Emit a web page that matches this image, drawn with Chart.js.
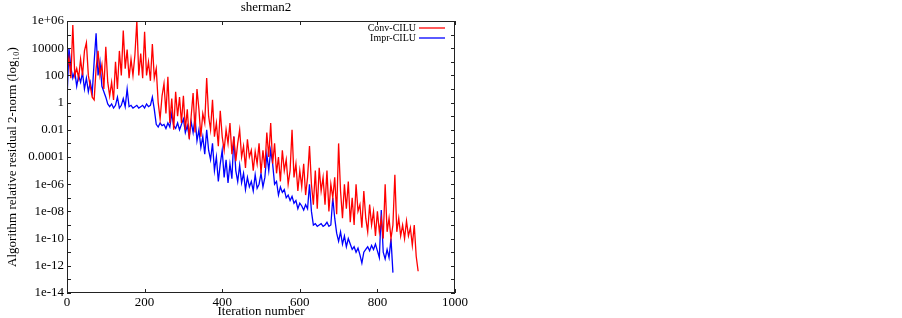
<!DOCTYPE html>
<html><head><meta charset="utf-8">
<script src="https://cdn.jsdelivr.net/npm/chart.js@4/dist/chart.umd.min.js"></script>
<style>html,body{margin:0;padding:0;background:#fff;}canvas{display:block;}</style>
</head><body>
<canvas id="c" width="902" height="318"></canvas>
<script>
const chartTitle = 'sherman2';
const xTitle = 'Iteration number';
const yTitle = 'Algorithm relative residual 2-norm (log\u2081\u2080)';
const seriesNames = ['Conv-CILU', 'Impr-CILU'];
const seriesColors = ['#ff0000', '#0000ff'];
const xTickValues = [0, 200, 400, 600, 800, 1000];
const xTickLabels = ['0', '200', '400', '600', '800', '1000'];
const yTickValues = [1e-14, 1e-12, 1e-10, 1e-8, 1e-6, 1e-4, 1e-2, 1, 1e2, 1e4, 1e6];
const yTickLabels = ['1e-14', '1e-12', '1e-10', '1e-08', '1e-06', '0.0001', '0.01', '1', '100', '10000', '1e+06'];
const iterStep = 5; // sampled every 5 iterations
// residual values as log10 exponents, read from the picture
const convLog10 = [
 2.5, 3.3, 1.8, 5.7, 2.0, 2.5, 1.8, 3.2, 2.0, 3.8,
 4.4, 2.0, 1.2, 0.4, 0.2, 2.5, 3.8, 2.0, 2.8, 1.0,
 4.1, 1.5, 0.5, 1.5, 0.2, 3.0, 1.0, 3.8, 2.0, 5.3,
 2.5, 3.9, 1.8, 3.2, 2.0, 3.5, 6.0, 2.0, 3.6, 1.8,
 5.2, 2.0, 3.0, 1.6, 4.3, 1.8, 2.5, 0.0, -1.2, 0.5,
 1.4, -0.8, 1.9, -1.5, 0.3, -2.0, 0.8, -1.0, 0.4, -1.5,
 0.5, -2.0, -0.5, -2.7, -1.0, 0.7, -2.2, 1.0, -0.5, -2.5,
 -0.8, -1.5, 1.8, -1.0, -2.0, 0.2, -2.5, -1.5, -3.2, -0.6,
 -2.5, -3.5, -2.0, -3.0, -1.5, -3.8, -2.5, -4.3, -3.0, -2.0,
 -4.0, -3.2, -4.8, -2.7, -4.0, -3.5, -5.0, -3.6, -4.5, -3.0,
 -5.2, -3.5, -4.8, -2.2, -4.0, -1.5, -4.5, -3.0, -5.2, -4.0,
 -5.8, -3.5, -5.0, -4.2, -6.0, -5.0, -2.0, -5.5, -4.5, -6.5,
 -5.0, -6.2, -4.5, -6.8, -5.5, -3.2, -6.0, -7.5, -5.0, -7.8,
 -4.8, -6.5, -5.5, -7.5, -5.0, -8.0, -6.0, -7.0, -5.5, -8.2,
 -3.0, -6.5, -8.5, -6.0, -7.8, -5.8, -8.8, -7.0, -9.0, -6.0,
 -8.0, -7.5, -9.2, -6.5, -8.5, -9.5, -7.5, -9.0, -8.0, -9.8,
 -8.0, -9.5, -8.5, -10.0, -6.0, -9.5, -8.5, -10.0, -9.0, -5.3,
 -9.5, -8.5, -9.8, -9.0, -10.0, -8.7, -9.8, -9.2, -10.5, -9.0,
 -11.3, -12.4
];
const imprLog10 = [
 0.2, 4.0, 2.6, 1.8, 2.3, 1.2, 2.0, 1.5, 2.2, 1.0,
 1.8, 0.8, 1.5, 0.7, 3.0, 5.1, 2.0, 3.0, 1.2, 0.8,
 0.4, -0.1, -0.3, -0.1, -0.4, -0.2, 0.4, -0.4, -0.2, 0.3,
 -0.3, 1.0, -0.3, -0.2, -0.4, -0.3, -0.2, -0.4, -0.3, -0.2,
 -0.4, -0.1, -0.3, -0.2, 0.4, -0.5, -1.6, -1.8, -1.5, -1.7,
 -1.6, -1.9, -1.5, -1.8, -0.8, -1.7, -1.9, -1.5, -2.0, -1.6,
 -1.2, -2.2, -1.7, -2.5, -1.4, -2.2, -1.1, -2.8, -2.0, -3.3,
 -2.5, -3.8, -2.0, -3.5, -4.2, -3.0, -5.0, -4.0, -5.8, -4.5,
 -3.5, -5.5, -4.2, -5.9, -4.5, -5.6, -2.5, -5.0, -5.8, -4.6,
 -5.9, -5.2, -6.4, -5.5, -6.2, -5.8, -6.5, -5.3, -6.3, -6.0,
 -5.2, -6.2, -5.5, -3.8, -5.0, -3.5, -4.5, -6.0, -5.8, -6.8,
 -6.2, -6.6, -6.4, -7.0, -6.8, -7.2, -6.9, -7.4, -7.2, -7.8,
 -7.4, -7.6, -7.9, -7.5, -7.8, -6.0, -8.0, -9.0, -8.9, -9.1,
 -9.0, -8.9, -9.1, -9.0, -8.8, -9.1, -9.0, -7.0, -8.5, -9.6,
 -10.2, -9.5, -10.4, -9.8, -10.6, -10.0, -10.4, -10.8, -10.6, -11.0,
 -10.7, -11.2, -11.8, -11.0, -10.8, -10.6, -10.9, -10.5, -10.8, -10.4,
 -10.9, -11.4, -7.9, -11.0, -11.5, -10.8, -11.4, -10.0, -12.5
];

const FONT = "'Liberation Serif', 'Times New Roman', serif";
const toPoints = arr => arr.map((v, i) => ({ x: i * iterStep, y: Math.pow(10, v) }));

const framePlugin = {
  id: 'frame',
  afterDatasetsDraw(chart) {
    const { ctx, chartArea: a, scales } = chart;
    ctx.save();
    ctx.strokeStyle = '#222';
    ctx.lineWidth = 1;
    ctx.strokeRect(a.left + 0.5, a.top + 0.5, a.right - a.left - 1, a.bottom - a.top - 1);
    ctx.beginPath();
    for (let e = -14; e <= 6; e++) {
      const y = Math.round(scales.y.getPixelForValue(Number('1e' + e))) + 0.5;
      ctx.moveTo(a.left, y); ctx.lineTo(a.left + 4, y);
      ctx.moveTo(a.right, y); ctx.lineTo(a.right - 4, y);
    }
    xTickValues.forEach(v => {
      const x = Math.round(scales.x.getPixelForValue(v)) + 0.5;
      ctx.moveTo(x, a.bottom); ctx.lineTo(x, a.bottom - 4);
      ctx.moveTo(x, a.top); ctx.lineTo(x, a.top + 4);
    });
    ctx.stroke();
    // title
    ctx.fillStyle = '#000';
    ctx.font = '13px ' + FONT;
    ctx.textAlign = 'center';
    ctx.textBaseline = 'middle';
    ctx.fillText(chartTitle, 266, 8);
    // legend
    ctx.font = '10px ' + FONT;
    ctx.textAlign = 'right';
    const ly = [28, 38];
    chart.data.datasets.forEach((ds, i) => {
      ctx.fillStyle = '#000';
      ctx.fillText(ds.label, 416, ly[i]);
      ctx.strokeStyle = ds.borderColor;
      ctx.lineWidth = 1.3;
      ctx.beginPath();
      ctx.moveTo(419, ly[i]); ctx.lineTo(445, ly[i]);
      ctx.stroke();
    });
    ctx.restore();
  }
};

new Chart(document.getElementById('c').getContext('2d'), {
  type: 'line',
  data: {
    datasets: [
      { label: seriesNames[0], data: toPoints(convLog10), borderColor: seriesColors[0], backgroundColor: seriesColors[0], borderWidth: 1.3, pointRadius: 0, tension: 0, fill: false },
      { label: seriesNames[1], data: toPoints(imprLog10), borderColor: seriesColors[1], backgroundColor: seriesColors[1], borderWidth: 1.3, pointRadius: 0, tension: 0, fill: false }
    ]
  },
  options: {
    responsive: false,
    animation: false,
    devicePixelRatio: 1,
    layout: { padding: { left: 0, right: 447, top: 21, bottom: 0 } },
    plugins: { legend: { display: false }, title: { display: false }, tooltip: { enabled: false } },
    scales: {
      x: {
        type: 'linear', min: 0, max: 1000,
        afterBuildTicks: s => { s.ticks = xTickValues.map(v => ({ value: v })); },
        grid: { display: false, drawTicks: false },
        border: { display: false },
        ticks: {
          color: '#000', font: { family: FONT, size: 13 }, padding: 2, maxRotation: 0, autoSkip: false,
          callback: v => { const i = xTickValues.indexOf(v); return i >= 0 ? xTickLabels[i] : ''; }
        },
        title: { display: true, text: xTitle, color: '#000', font: { family: FONT, size: 13, lineHeight: 1 }, padding: 0 },
        afterFit: s => { s.height = 25; }
      },
      y: {
        type: 'logarithmic', min: 1e-14, max: 1e6,
        afterBuildTicks: s => { const t = []; for (let e = -14; e <= 6; e++) t.push({ value: Number('1e' + e) }); s.ticks = t; },
        grid: { display: false, drawTicks: false },
        border: { display: false },
        ticks: {
          color: '#000', font: { family: FONT, size: 13 }, padding: 3, autoSkip: false,
          callback: v => { const i = yTickValues.findIndex(t => Math.abs(Math.log10(t) - Math.log10(v)) < 1e-6); return i >= 0 ? yTickLabels[i] : ''; }
        },
        title: { display: true, text: yTitle, color: '#000', font: { family: FONT, size: 13, lineHeight: 1 }, padding: { top: 6, bottom: 0 } },
        afterFit: s => { s.width = 67; }
      }
    }
  },
  plugins: [framePlugin]
});
</script>
</body></html>
